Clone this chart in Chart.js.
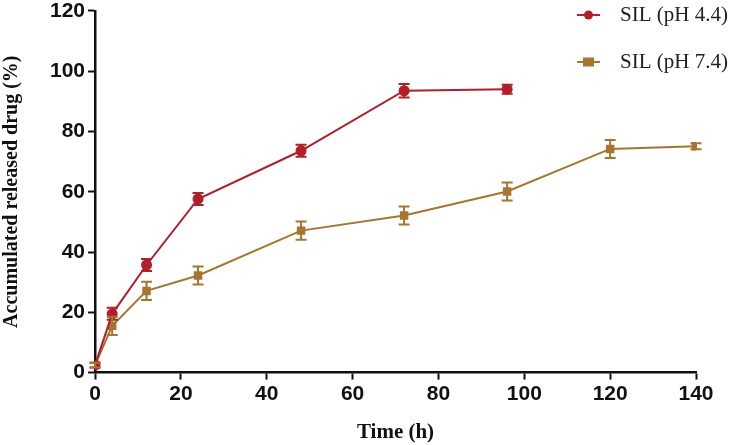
<!DOCTYPE html>
<html>
<head>
<meta charset="utf-8">
<script src="https://cdn.jsdelivr.net/npm/chart.js@4/dist/chart.umd.min.js"></script>
<style>
  html, body { margin: 0; padding: 0; background: #fff; }
  #wrap { width: 729px; height: 445px; position: relative; }
</style>
</head>
<body>
<div id="wrap"><canvas id="chart"></canvas></div>
<script>
// time points (h)
const timeAcid = [0, 4, 12, 24, 48, 72, 96];
const timeNeutral = [0, 4, 12, 24, 48, 72, 96, 120, 140];

// accumulated release (%) and error (SD)
const releaseAcid = [2.5, 19.5, 35.7, 57.6, 73.6, 93.5, 94.0];
const errAcid = [0.8, 2.0, 2.0, 2.0, 2.0, 2.2, 1.5];
const releaseNeutral = [2.5, 15.5, 27.1, 32.2, 47.1, 52.1, 60.1, 74.2, 75.1];
const errNeutral = [0.8, 3.0, 3.0, 3.0, 3.0, 3.0, 3.0, 3.0, 1.0];

const seriesNames = ['SIL (pH 4.4)', 'SIL (pH 7.4)'];
const red = '#b01f2a';
const brown = '#a67530';

function toPoints(xs, ys) {
    return xs.map((x, i) => ({ x: x, y: ys[i] }));
}

// vertical error bars with caps, drawn through the chart scales
const errorBars = {
    id: 'errorBars',
    afterDatasetsDraw(chart) {
        const ctx = chart.ctx;
        const yScale = chart.scales.y;
        chart.data.datasets.forEach((ds, di) => {
            const meta = chart.getDatasetMeta(di);
            ctx.save();
            ctx.strokeStyle = ds.borderColor;
            ctx.lineWidth = 2;
            meta.data.forEach((pt, i) => {
                const e = ds.errors[i];
                const v = ds.data[i].y;
                const top = yScale.getPixelForValue(v + e);
                const bot = yScale.getPixelForValue(v - e);
                ctx.beginPath();
                ctx.moveTo(pt.x, top);
                ctx.lineTo(pt.x, bot);
                ctx.moveTo(pt.x - 5.5, top);
                ctx.lineTo(pt.x + 5.5, top);
                ctx.moveTo(pt.x - 5.5, bot);
                ctx.lineTo(pt.x + 5.5, bot);
                ctx.stroke();
            });
            ctx.restore();
        });
    }
};

// stacked legend in the top-right corner
const sideLegend = {
    id: 'sideLegend',
    afterDraw(chart) {
        const ctx = chart.ctx;
        chart.data.datasets.forEach((ds, i) => {
            const y = 15 + i * 47;
            const x0 = 577;
            ctx.save();
            ctx.strokeStyle = ds.borderColor;
            ctx.fillStyle = ds.borderColor;
            ctx.lineWidth = 2;
            ctx.beginPath();
            ctx.moveTo(x0, y);
            ctx.lineTo(x0 + 23, y);
            ctx.stroke();
            if (ds.pointStyle === 'rect') {
                ctx.fillRect(x0 + 6, y - 4.5, 11, 9);
            } else {
                ctx.beginPath();
                ctx.arc(x0 + 11.5, y, 4.5, 0, Math.PI * 2);
                ctx.fill();
            }
            ctx.fillStyle = '#222';
            ctx.font = '21px "Liberation Serif"';
            ctx.textBaseline = 'middle';
            ctx.fillText(ds.label, x0 + 43, y);
            ctx.restore();
        });
    }
};

new Chart(document.getElementById('chart'), {
    type: 'line',
    data: {
        datasets: [
            {
                label: seriesNames[0],
                data: toPoints(timeAcid, releaseAcid),
                errors: errAcid,
                borderColor: red,
                backgroundColor: red,
                borderWidth: 2,
                pointStyle: 'circle',
                pointRadius: 5.5,
                pointBorderWidth: 0,
                tension: 0
            },
            {
                label: seriesNames[1],
                data: toPoints(timeNeutral, releaseNeutral),
                errors: errNeutral,
                borderColor: brown,
                backgroundColor: brown,
                borderWidth: 2,
                pointStyle: 'rect',
                pointRadius: 6,
                pointBorderWidth: 0,
                tension: 0
            }
        ]
    },
    options: {
        responsive: true,
        maintainAspectRatio: false,
        animation: false,
        layout: { padding: { top: 0, right: 33, bottom: 0, left: 0 } },
        plugins: {
            legend: { display: false },
            tooltip: { enabled: false }
        },
        scales: {
            x: {
                type: 'linear',
                min: 0,
                max: 140,
                ticks: {
                    stepSize: 20,
                    color: '#111',
                    padding: 2,
                    font: { family: '"Liberation Sans"', size: 21, weight: 'bold' }
                },
                grid: {
                    display: true,
                    drawOnChartArea: false,
                    drawTicks: true,
                    tickLength: 7,
                    tickWidth: 2,
                    tickColor: '#111'
                },
                border: { display: true, color: '#111', width: 2.5 },
                title: {
                    display: true,
                    text: 'Time (h)',
                    color: '#111',
                    padding: { top: 11, bottom: 0 },
                    font: { family: '"Liberation Serif"', size: 21, weight: 'bold' }
                }
            },
            y: {
                min: 0,
                max: 120,
                ticks: {
                    stepSize: 20,
                    color: '#111',
                    padding: 3,
                    font: { family: '"Liberation Sans"', size: 21, weight: 'bold', lineHeight: 0.75 }
                },
                grid: {
                    display: true,
                    drawOnChartArea: false,
                    drawTicks: true,
                    tickLength: 7,
                    tickWidth: 2,
                    tickColor: '#111'
                },
                border: { display: true, color: '#111', width: 2.5 },
                title: {
                    display: true,
                    text: 'Accumulated released drug (%)',
                    color: '#111',
                    padding: { top: 0, bottom: 23 },
                    font: { family: '"Liberation Serif"', size: 20, weight: 'bold' }
                }
            }
        }
    },
    plugins: [errorBars, sideLegend]
});
</script>
</body>
</html>
